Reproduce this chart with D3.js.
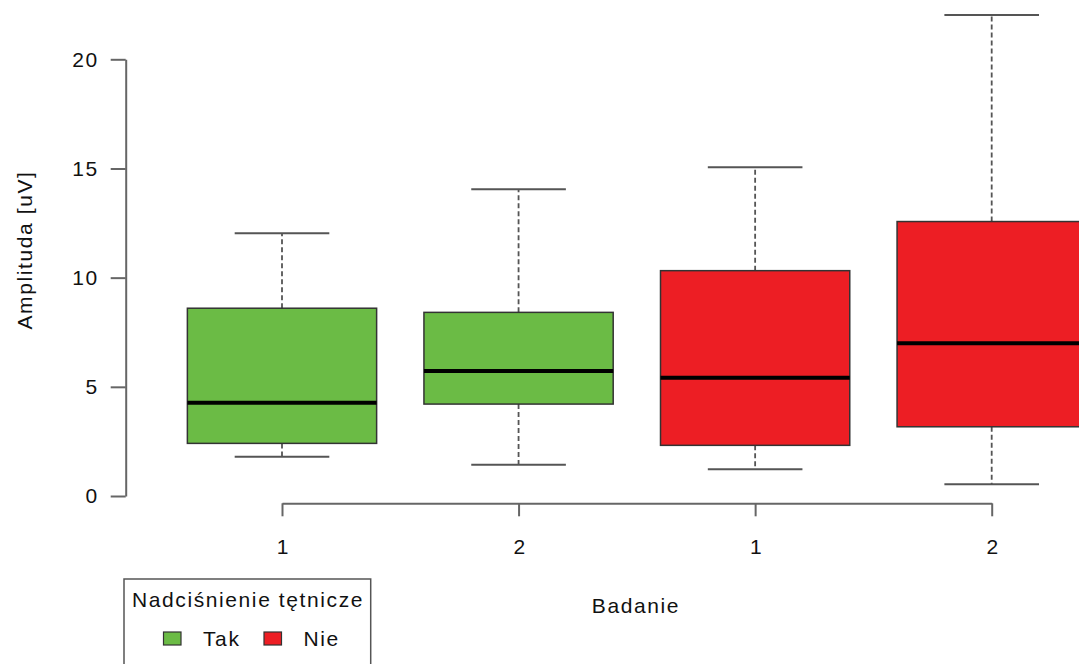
<!DOCTYPE html>
<html>
<head>
<meta charset="utf-8">
<script src="https://cdn.jsdelivr.net/npm/d3@7"></script>
<style>
  body { margin: 0; background: #fff; }
  svg { display: block; }
  text { font-family: "Liberation Sans", Arial, sans-serif; font-size: 21px; letter-spacing: 1.6px; fill: #111; }
</style>
</head>
<body>
<svg id="chart" width="1079" height="664"></svg>
<script>
// ---------- DATA ----------
const groups   = ["Tak", "Tak", "Nie", "Nie"];        // Nadciśnienie tętnicze
const badanie  = ["1", "2", "1", "2"];                // x tick labels
const whiskLo  = [1.8, 1.43, 1.22, 0.54];
const q1       = [2.41, 4.21, 2.32, 3.17];
const median   = [4.27, 5.73, 5.42, 7.0];
const q3       = [8.6, 8.41, 10.32, 12.57];
const whiskHi  = [12.03, 14.05, 15.06, 22.03];
const yTicks   = [0, 5, 10, 15, 20];
const legendKeys = ["Tak", "Nie"];

const colors = { "Tak": "#6bbb45", "Nie": "#ed1e24" };

// ---------- SCALES ----------
const svg = d3.select("#chart");
const x = d3.scaleLinear().domain([1, 4]).range([282, 991.7]);
const y = d3.scaleLinear().domain([0, 20]).range([496, 59.3]);
const halfBox = 0.4, halfCap = 0.2;

const boxes = badanie.map((b, i) => ({
  i, pos: i + 1, group: groups[i],
  lo: whiskLo[i], q1: q1[i], med: median[i], q3: q3[i], hi: whiskHi[i]
}));

const plot = svg.append("g");

// whiskers (dashed)
plot.selectAll("line.wh-up").data(boxes).join("line")
  .attr("x1", d => x(d.pos)).attr("x2", d => x(d.pos))
  .attr("y1", d => y(d.q3)).attr("y2", d => y(d.hi))
  .attr("stroke", "#555").attr("stroke-width", 1.8).attr("stroke-dasharray", "5,3");
plot.selectAll("line.wh-dn").data(boxes).join("line")
  .attr("x1", d => x(d.pos)).attr("x2", d => x(d.pos))
  .attr("y1", d => y(d.q1)).attr("y2", d => y(d.lo))
  .attr("stroke", "#555").attr("stroke-width", 1.8).attr("stroke-dasharray", "5,3");

// caps
["hi", "lo"].forEach(k => {
  plot.selectAll("line.cap-" + k).data(boxes).join("line")
    .attr("x1", d => x(d.pos - halfCap)).attr("x2", d => x(d.pos + halfCap))
    .attr("y1", d => y(d[k])).attr("y2", d => y(d[k]))
    .attr("stroke", "#555").attr("stroke-width", 2);
});

// boxes
plot.selectAll("rect.box").data(boxes).join("rect")
  .attr("x", d => x(d.pos - halfBox))
  .attr("width", d => x(d.pos + halfBox) - x(d.pos - halfBox))
  .attr("y", d => y(d.q3))
  .attr("height", d => y(d.q1) - y(d.q3))
  .attr("fill", d => colors[d.group])
  .attr("stroke", "#333").attr("stroke-width", 1.5);

// medians
plot.selectAll("line.med").data(boxes).join("line")
  .attr("x1", d => x(d.pos - halfBox)).attr("x2", d => x(d.pos + halfBox))
  .attr("y1", d => y(d.med)).attr("y2", d => y(d.med))
  .attr("stroke", "#000").attr("stroke-width", 4);

// ---------- AXES ----------
const yAxis = svg.append("g").attr("transform", "translate(125.7,0)")
  .call(d3.axisLeft(y).tickValues(yTicks).tickSize(15).tickSizeOuter(0).tickPadding(14));
const xAxis = svg.append("g").attr("transform", "translate(0,503.3)")
  .call(d3.axisBottom(x).tickValues([1, 2, 3, 4]).tickFormat((d, i) => badanie[i])
    .tickSize(13).tickSizeOuter(0).tickPadding(23));

[yAxis, xAxis].forEach(a => {
  a.select(".domain").attr("stroke", "#666").attr("stroke-width", 2);
  a.selectAll(".tick line").attr("stroke", "#666").attr("stroke-width", 2);
  a.selectAll(".tick text").attr("font-size", null).attr("font-family", null).attr("fill", "#111");
});
yAxis.selectAll(".tick text").attr("dx", "2px");
xAxis.selectAll(".tick text").attr("dx", "1px");

// axis titles
svg.append("text").attr("x", 636).attr("y", 613).attr("text-anchor", "middle").text("Badanie");
svg.append("text").attr("transform", "translate(32,250) rotate(-90)")
  .attr("text-anchor", "middle").text("Amplituda [uV]");

// ---------- LEGEND ----------
const leg = svg.append("g");
leg.append("rect").attr("x", 124).attr("y", 579).attr("width", 246.7).attr("height", 100)
  .attr("fill", "#fff").attr("stroke", "#555").attr("stroke-width", 1.5);
leg.append("text").attr("x", 248).attr("y", 607).attr("text-anchor", "middle").text("Nadciśnienie tętnicze");
const keyX = [163.5, 264];
legendKeys.forEach((k, i) => {
  leg.append("rect").attr("x", keyX[i]).attr("y", 632).attr("width", 17.5).attr("height", 13)
    .attr("fill", colors[k]).attr("stroke", "#333").attr("stroke-width", 1.2);
  leg.append("text").attr("x", keyX[i] + 39.5).attr("y", 646).text(k);
});
</script>
</body>
</html>
